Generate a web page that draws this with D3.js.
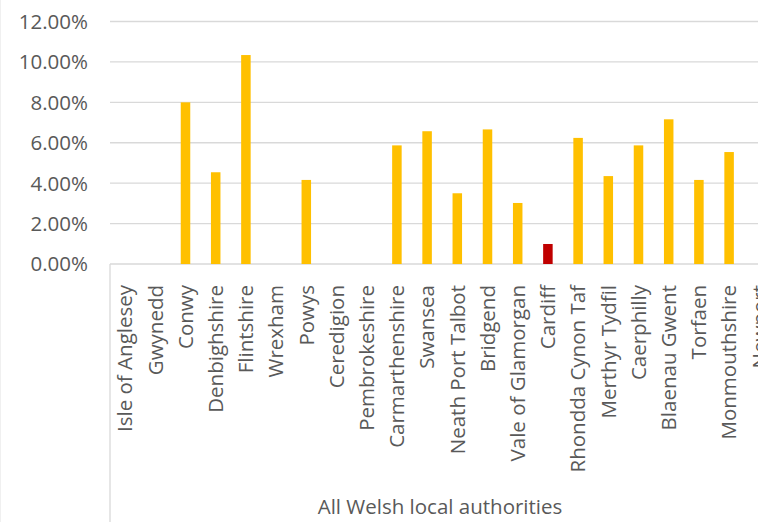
<!DOCTYPE html>
<html>
<head>
<meta charset="utf-8">
<script src="https://cdn.jsdelivr.net/npm/d3@7"></script>
<style>
  html, body { margin: 0; padding: 0; background: #fff; }
  svg { display: block; font-family: "Open Sans", Lato, sans-serif; }
</style>
</head>
<body>
<svg id="chart" width="758" height="522"></svg>
<script>
const categories = ["Isle of Anglesey","Gwynedd","Conwy","Denbighshire","Flintshire","Wrexham","Powys","Ceredigion","Pembrokeshire","Carmarthenshire","Swansea","Neath Port Talbot","Bridgend","Vale of Glamorgan","Cardiff","Rhondda Cynon Taf","Merthyr Tydfil","Caerphilly","Blaenau Gwent","Torfaen","Monmouthshire","Newport"];
const values = [null,null,0.0800,0.0454,0.1034,null,0.0416,null,null,0.0587,0.0657,0.0350,0.0666,0.0302,0.0099,0.0624,0.0435,0.0587,0.0716,0.0416,0.0554,null];
const highlight = ["Cardiff"];
const yTicks = [0,0.02,0.04,0.06,0.08,0.10,0.12];
const axisTitle = "All Welsh local authorities";

(function () {
const svg = d3.select("#chart");
const left = 110, step = 30.2, plotTop = 21.5, plotBottom = 264;
const fs = 20.5;

// faint chart border on the left
svg.append("line").attr("x1", 0.5).attr("x2", 0.5).attr("y1", 0).attr("y2", 522)
  .attr("stroke", "#F0F0F0").attr("stroke-width", 1);

const x = d3.scaleBand().domain(categories)
  .range([left, left + step * categories.length])
  .paddingInner(0.685).paddingOuter(0.3425);
const y = d3.scaleLinear().domain([0, 0.12]).range([plotBottom, plotTop]);

// gridlines
svg.append("g").selectAll("line").data(yTicks).join("line")
  .attr("x1", left).attr("x2", 758)
  .attr("y1", d => y(d)).attr("y2", d => y(d))
  .attr("stroke", "#D9D9D9").attr("stroke-width", 1.3);

// y labels
svg.append("g").selectAll("text").data(yTicks).join("text")
  .attr("x", 88).attr("y", d => y(d)).attr("dy", "0.36em")
  .attr("text-anchor", "end").attr("fill", "#595959")
  .attr("font-size", fs)
  .text(d => d3.format(".2%")(d));

// category axis box line
svg.append("line").attr("x1", left).attr("x2", left).attr("y1", plotBottom).attr("y2", 522)
  .attr("stroke", "#D9D9D9").attr("stroke-width", 1.3);

// bars
const data = categories.map((c, i) => ({c, v: values[i]})).filter(d => d.v != null);
svg.append("g").selectAll("rect").data(data).join("rect")
  .attr("x", d => x(d.c)).attr("width", x.bandwidth())
  .attr("y", d => y(d.v)).attr("height", d => y(0) - y(d.v))
  .attr("fill", d => highlight.includes(d.c) ? "#C00000" : "#FFC000");

// x labels
svg.append("g").selectAll("text").data(categories).join("text")
  .attr("transform", d => `translate(${x(d) + x.bandwidth()/2},285) rotate(-90)`)
  .attr("dy", "0.36em").attr("text-anchor", "end")
  .attr("fill", "#595959").attr("font-size", fs)
  .text(d => d);

// axis title
svg.append("text").attr("x", 440).attr("y", 514)
  .attr("text-anchor", "middle").attr("fill", "#595959").attr("font-size", fs)
  .text(axisTitle);
})();
</script>
</body>
</html>
